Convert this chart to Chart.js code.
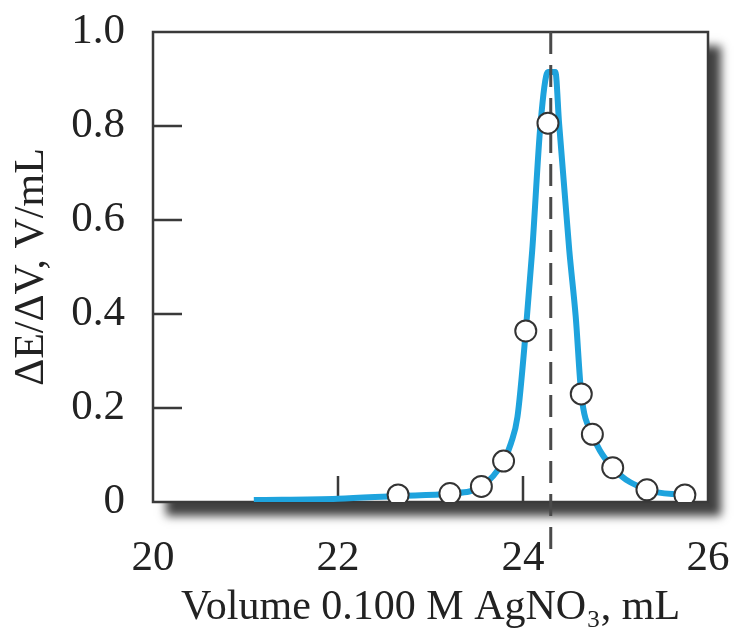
<!DOCTYPE html>
<html>
<head>
<meta charset="utf-8">
<script src="https://cdn.jsdelivr.net/npm/chart.js@4"></script>
<style>
  body { margin: 0; background: #fff; }
</style>
</head>
<body>
<canvas id="chart" width="735" height="641"></canvas>
<script>
// tick labels
const xTicks = [20, 22, 24, 26];
const yTicks = [0, 0.2, 0.4, 0.6, 0.8, 1.0];

// measured points (circles)
const pointVolume = [22.65, 23.21, 23.55, 23.79, 24.03, 24.27, 24.63, 24.75, 24.97, 25.34, 25.75];
const pointDeriv = [0.015, 0.018, 0.033, 0.087, 0.364, 0.806, 0.230, 0.144, 0.073, 0.026, 0.015];

// smooth curve
const curveVolume = [21.09, 22.0, 22.65, 23.21, 23.55, 23.79, 23.87, 23.94, 24.03, 24.10, 24.19, 24.27, 24.35, 24.39, 24.50, 24.57, 24.63, 24.75, 24.97, 25.34, 25.75];
const curveDeriv = [0.004, 0.007, 0.013, 0.018, 0.033, 0.087, 0.125, 0.181, 0.364, 0.536, 0.806, 0.915, 0.915, 0.806, 0.536, 0.394, 0.230, 0.144, 0.073, 0.026, 0.015];

// end point (dashed line)
const endPointVolume = 24.30;
const endLineY = [1.0, -0.109];

const serif = 'Liberation Serif';

function toXY(xs, ys) {
    return xs.map((x, i) => ({x: x, y: ys[i]}));
}

// box with shadow, frame and inner ticks
const boxPlugin = {
    id: 'box',
    beforeDraw(chart) {
        const {ctx, chartArea: a} = chart;
        ctx.save();
        ctx.shadowColor = 'rgba(0,0,0,0.75)';
        ctx.shadowBlur = 9;
        ctx.shadowOffsetX = 13;
        ctx.shadowOffsetY = 14;
        ctx.fillStyle = '#fff';
        ctx.fillRect(a.left, a.top, a.right - a.left, a.bottom - a.top);
        ctx.restore();
    },
    beforeDatasetsDraw(chart) {
        const {ctx, chartArea: a, scales} = chart;
        ctx.save();
        ctx.strokeStyle = '#3a3a3a';
        ctx.lineWidth = 2.5;
        ctx.strokeRect(a.left, a.top, a.right - a.left, a.bottom - a.top);
        ctx.beginPath();
        yTicks.slice(1, -1).forEach(v => {
            const y = scales.y.getPixelForValue(v);
            ctx.moveTo(a.left, y);
            ctx.lineTo(a.left + 29, y);
        });
        xTicks.slice(1, -1).forEach(v => {
            const x = scales.x.getPixelForValue(v);
            ctx.moveTo(x, a.bottom);
            ctx.lineTo(x, a.bottom - 26);
        });
        ctx.stroke();
        ctx.restore();
    }
};

new Chart(document.getElementById('chart'), {
    type: 'scatter',
    data: {
        datasets: [
            {
                label: 'points',
                data: toXY(pointVolume, pointDeriv),
                pointRadius: 10.5,
                pointBackgroundColor: '#fff',
                pointBorderColor: '#333',
                pointBorderWidth: 2,
                order: 0
            },
            {
                label: 'end point',
                data: endLineY.map(y => ({x: endPointVolume, y: y})),
                showLine: true,
                pointRadius: 0,
                borderColor: '#4a4a4a',
                borderWidth: 3,
                borderDash: [22, 11],
                clip: false,
                order: 1
            },
            {
                label: 'curve',
                data: toXY(curveVolume, curveDeriv),
                showLine: true,
                pointRadius: 0,
                borderColor: '#1ea3dd',
                borderWidth: 6,
                cubicInterpolationMode: 'monotone',
                order: 2
            }
        ]
    },
    options: {
        responsive: false,
        animation: false,
        layout: {padding: {top: 32, right: 27, left: 0, bottom: 0}},
        plugins: {
            legend: {display: false},
            tooltip: {enabled: false}
        },
        scales: {
            x: {
                type: 'linear',
                min: 20,
                max: 26,
                grid: {display: false},
                border: {display: false},
                afterFit(scale) {
                    scale.height = 139;
                    scale.paddingLeft = 0;
                    scale.paddingRight = 0;
                },
                afterBuildTicks(scale) { scale.ticks = xTicks.map(v => ({value: v})); },
                ticks: {
                    color: '#222',
                    font: {family: serif, size: 43},
                    padding: 23,
                    autoSkip: false,
                    maxRotation: 0
                },
                title: {
                    display: true,
                    text: 'Volume 0.100 M AgNO₃, mL',
                    color: '#222',
                    font: {family: serif, size: 42},
                    padding: {top: 0, bottom: 8}
                }
            },
            y: {
                min: 0,
                max: 1,
                grid: {display: false},
                border: {display: false},
                afterFit(scale) {
                    scale.width = 153;
                    scale.paddingTop = 0;
                    scale.paddingBottom = 0;
                },
                afterBuildTicks(scale) { scale.ticks = yTicks.map(v => ({value: v})); },
                ticks: {
                    color: '#222',
                    font: {family: serif, size: 43},
                    padding: 20,
                    callback: v => v === 0 ? '0' : v.toFixed(1)
                },
                title: {
                    display: true,
                    text: 'ΔE/ΔV, V/mL',
                    color: '#222',
                    font: {family: serif, size: 42},
                    padding: {top: 7, bottom: 0}
                }
            }
        }
    },
    plugins: [boxPlugin]
});
</script>
</body>
</html>
